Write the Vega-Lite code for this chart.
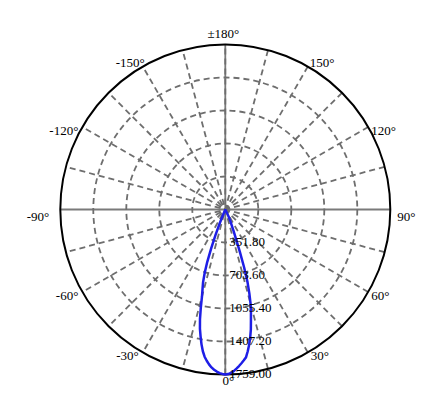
{
  "$schema": "https://vega.github.io/schema/vega-lite/v6.json",
  "description": "Polar luminous intensity distribution (cd), 0 deg pointing down.",
  "width": 446,
  "height": 411,
  "autosize": {"type": "none"},
  "padding": 0,
  "background": "white",
  "config": {"view": {"stroke": null}},
  "datasets": {
    "curve": [
      {"a": -180, "cd": 0}, {"a": -30, "cd": 0}, {"a": -25, "cd": 0}, {"a": -23, "cd": 60},
      {"a": -22, "cd": 150}, {"a": -21, "cd": 290}, {"a": -20, "cd": 440}, {"a": -19, "cd": 590},
      {"a": -18, "cd": 710}, {"a": -17, "cd": 810}, {"a": -16, "cd": 880}, {"a": -15, "cd": 960},
      {"a": -14, "cd": 1080}, {"a": -13, "cd": 1200}, {"a": -12, "cd": 1300}, {"a": -11, "cd": 1380},
      {"a": -10, "cd": 1460}, {"a": -9, "cd": 1530}, {"a": -8, "cd": 1585}, {"a": -7, "cd": 1625},
      {"a": -6, "cd": 1660}, {"a": -5, "cd": 1690}, {"a": -4, "cd": 1712}, {"a": -3, "cd": 1730},
      {"a": -2, "cd": 1745}, {"a": -1, "cd": 1753}, {"a": 0, "cd": 1759}, {"a": 1, "cd": 1755},
      {"a": 2, "cd": 1742}, {"a": 3, "cd": 1725}, {"a": 4, "cd": 1700}, {"a": 5, "cd": 1675},
      {"a": 6, "cd": 1648}, {"a": 7, "cd": 1620}, {"a": 8, "cd": 1590}, {"a": 9, "cd": 1530},
      {"a": 10, "cd": 1465}, {"a": 11, "cd": 1390}, {"a": 12, "cd": 1310}, {"a": 13, "cd": 1215},
      {"a": 14, "cd": 1130}, {"a": 15, "cd": 1040}, {"a": 16, "cd": 930}, {"a": 17, "cd": 810},
      {"a": 18, "cd": 650}, {"a": 19, "cd": 470}, {"a": 20, "cd": 330}, {"a": 21, "cd": 250},
      {"a": 22, "cd": 185}, {"a": 23, "cd": 150}, {"a": 24, "cd": 120}, {"a": 25, "cd": 80},
      {"a": 27, "cd": 0}, {"a": 30, "cd": 0}, {"a": 180, "cd": 0}
    ],
    "rings": [{"v": 351.8}, {"v": 703.6}, {"v": 1055.4}, {"v": 1407.2}, {"v": 1759.0}],
    "spokes": [
      {"a": 0}, {"a": 15}, {"a": 30}, {"a": 45}, {"a": 60}, {"a": 75},
      {"a": 90}, {"a": 105}, {"a": 120}, {"a": 135}, {"a": 150}, {"a": 165}
    ],
    "labels": [
      {"a": 180, "t": "±180°"}, {"a": 150, "t": "150°"}, {"a": 120, "t": "120°"},
      {"a": 90, "t": "90°"}, {"a": 60, "t": "60°"}, {"a": 30, "t": "30°"},
      {"a": 0, "t": "0°"}, {"a": -30, "t": "-30°"}, {"a": -60, "t": "-60°"},
      {"a": -90, "t": "-90°"}, {"a": -120, "t": "-120°"}, {"a": -150, "t": "-150°"}
    ]
  },
  "encoding": {
    "x": {"field": "px", "type": "quantitative", "axis": null,
          "scale": {"domain": [-2401.8, 2352.8], "nice": false, "zero": false}},
    "y": {"field": "py", "type": "quantitative", "axis": null,
          "scale": {"domain": [-2148.2, 2233.4], "nice": false, "zero": false}}
  },
  "layer": [
    {
      "data": {"name": "spokes"},
      "transform": [
        {"filter": "datum.a == 0 || datum.a == 90"},
        {"calculate": "1759 * sin(datum.a * PI / 180)", "as": "px"},
        {"calculate": "-1759 * cos(datum.a * PI / 180)", "as": "py"},
        {"calculate": "-datum.px", "as": "px2"},
        {"calculate": "-datum.py", "as": "py2"}
      ],
      "mark": {"type": "rule", "color": "#7a7a7a", "strokeWidth": 1.8},
      "encoding": {"x2": {"field": "px2"}, "y2": {"field": "py2"}}
    },
    {
      "data": {"name": "spokes"},
      "transform": [
        {"filter": "datum.a != 90"},
        {"calculate": "1759 * sin(datum.a * PI / 180)", "as": "px"},
        {"calculate": "-1759 * cos(datum.a * PI / 180)", "as": "py"},
        {"calculate": "-datum.px", "as": "px2"},
        {"calculate": "-datum.py", "as": "py2"}
      ],
      "mark": {"type": "rule", "color": "#6e6e6e", "strokeWidth": 1.8, "strokeDash": [6, 4]},
      "encoding": {"x2": {"field": "px2"}, "y2": {"field": "py2"}}
    },
    {
      "data": {"name": "rings"},
      "transform": [
        {"filter": "datum.v < 1759"},
        {"calculate": "0", "as": "px"},
        {"calculate": "0", "as": "py"}
      ],
      "mark": {"type": "point", "shape": "circle", "filled": false, "opacity": 1,
               "stroke": "#6e6e6e", "strokeWidth": 1.8, "strokeDash": [6, 4]},
      "encoding": {
        "size": {"field": "v", "type": "quantitative", "legend": null,
                 "scale": {"type": "pow", "exponent": 2, "domain": [0, 1759], "range": [0, 108900], "zero": true, "nice": false}}
      }
    },
    {
      "data": {"name": "rings"},
      "transform": [
        {"filter": "datum.v >= 1759"},
        {"calculate": "0", "as": "px"},
        {"calculate": "0", "as": "py"}
      ],
      "mark": {"type": "point", "shape": "circle", "filled": false, "opacity": 1,
               "stroke": "black", "strokeWidth": 2},
      "encoding": {
        "size": {"field": "v", "type": "quantitative", "legend": null,
                 "scale": {"type": "pow", "exponent": 2, "domain": [0, 1759], "range": [0, 108900], "zero": true, "nice": false}}
      }
    },
    {
      "data": {"name": "curve"},
      "transform": [
        {"calculate": "datum.cd * sin(datum.a * PI / 180)", "as": "px"},
        {"calculate": "-datum.cd * cos(datum.a * PI / 180)", "as": "py"}
      ],
      "mark": {"type": "line", "color": "#1e1ee6", "strokeWidth": 2.5, "strokeJoin": "round"},
      "encoding": {"order": {"field": "a", "type": "quantitative"}}
    },
    {
      "data": {"name": "rings"},
      "transform": [
        {"calculate": "0", "as": "px"},
        {"calculate": "-datum.v", "as": "py"}
      ],
      "mark": {"type": "text", "align": "left", "baseline": "middle", "dx": 4,
               "font": "Liberation Serif", "fontSize": 13, "color": "black"},
      "encoding": {"text": {"field": "v", "type": "quantitative", "format": ".2f"}}
    },
    {
      "data": {"name": "labels"},
      "transform": [
        {"filter": "datum.a == -120 || datum.a == -60 || datum.a == -30"},
        {"calculate": "1759 * sin(datum.a * PI / 180)", "as": "px"},
        {"calculate": "-1759 * cos(datum.a * PI / 180)", "as": "py"}
      ],
      "mark": {"type": "text", "align": "right", "baseline": "top", "dx": -4, "dy": -2,
               "font": "Liberation Serif", "fontSize": 13, "color": "black"},
      "encoding": {"text": {"field": "t"}}
    },
    {
      "data": {"name": "labels"},
      "transform": [
        {"filter": "datum.a == 120 || datum.a == 60 || datum.a == 30"},
        {"calculate": "1759 * sin(datum.a * PI / 180)", "as": "px"},
        {"calculate": "-1759 * cos(datum.a * PI / 180)", "as": "py"}
      ],
      "mark": {"type": "text", "align": "left", "baseline": "top", "dx": 3, "dy": -2,
               "font": "Liberation Serif", "fontSize": 13, "color": "black"},
      "encoding": {"text": {"field": "t"}}
    },
    {
      "data": {"name": "labels"},
      "transform": [
        {"filter": "datum.a == -90"},
        {"calculate": "1759 * sin(datum.a * PI / 180)", "as": "px"},
        {"calculate": "-1759 * cos(datum.a * PI / 180)", "as": "py"}
      ],
      "mark": {"type": "text", "align": "right", "baseline": "top", "dx": -11, "dy": 2,
               "font": "Liberation Serif", "fontSize": 13, "color": "black"},
      "encoding": {"text": {"field": "t"}}
    },
    {
      "data": {"name": "labels"},
      "transform": [
        {"filter": "datum.a == 90"},
        {"calculate": "1759 * sin(datum.a * PI / 180)", "as": "px"},
        {"calculate": "-1759 * cos(datum.a * PI / 180)", "as": "py"}
      ],
      "mark": {"type": "text", "align": "left", "baseline": "top", "dx": 7, "dy": 2,
               "font": "Liberation Serif", "fontSize": 13, "color": "black"},
      "encoding": {"text": {"field": "t"}}
    },
    {
      "data": {"name": "labels"},
      "transform": [
        {"filter": "datum.a == -150"},
        {"calculate": "1759 * sin(datum.a * PI / 180)", "as": "px"},
        {"calculate": "-1759 * cos(datum.a * PI / 180)", "as": "py"}
      ],
      "mark": {"type": "text", "align": "right", "baseline": "bottom", "dx": 2, "dy": 3,
               "font": "Liberation Serif", "fontSize": 13, "color": "black"},
      "encoding": {"text": {"field": "t"}}
    },
    {
      "data": {"name": "labels"},
      "transform": [
        {"filter": "datum.a == 150"},
        {"calculate": "1759 * sin(datum.a * PI / 180)", "as": "px"},
        {"calculate": "-1759 * cos(datum.a * PI / 180)", "as": "py"}
      ],
      "mark": {"type": "text", "align": "left", "baseline": "bottom", "dx": 2, "dy": 3,
               "font": "Liberation Serif", "fontSize": 13, "color": "black"},
      "encoding": {"text": {"field": "t"}}
    },
    {
      "data": {"name": "labels"},
      "transform": [
        {"filter": "datum.a == 180"},
        {"calculate": "1759 * sin(datum.a * PI / 180)", "as": "px"},
        {"calculate": "-1759 * cos(datum.a * PI / 180)", "as": "py"}
      ],
      "mark": {"type": "text", "align": "center", "baseline": "bottom", "dx": -2, "dy": -3,
               "font": "Liberation Serif", "fontSize": 13, "color": "black"},
      "encoding": {"text": {"field": "t"}}
    },
    {
      "data": {"name": "labels"},
      "transform": [
        {"filter": "datum.a == 0"},
        {"calculate": "1759 * sin(datum.a * PI / 180)", "as": "px"},
        {"calculate": "-1759 * cos(datum.a * PI / 180)", "as": "py"}
      ],
      "mark": {"type": "text", "align": "center", "baseline": "top", "dx": 3, "dy": 1,
               "font": "Liberation Serif", "fontSize": 13, "color": "black"},
      "encoding": {"text": {"field": "t"}}
    }
  ]
}
